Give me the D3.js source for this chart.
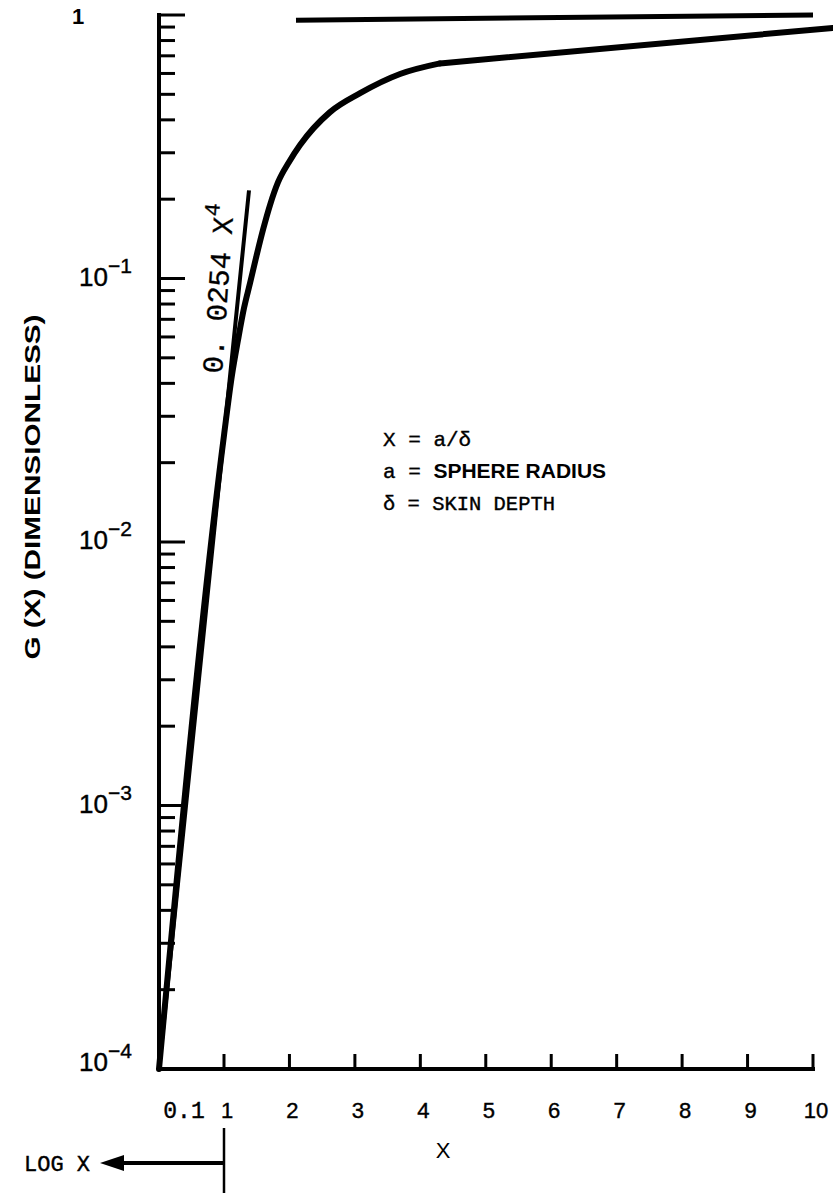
<!DOCTYPE html>
<html><head><meta charset="utf-8">
<script src="https://cdn.jsdelivr.net/npm/d3@7"></script>
<style>body{margin:0;background:#fff}</style>
</head><body><svg id="c" width="833" height="1193"></svg>
<script>
// ---- data ----
const xTickValues = [1,2,3,4,5,6,7,8,9,10];
const xTickLabels = ["0.1","1","2","3","4","5","6","7","8","9","10"];
const xLabelValues = [0.1,1,2,3,4,5,6,7,8,9,10];
const yDecades = [1e-4,1e-3,1e-2,1e-1,1];
const yDecadeLabels = ["-4","-3","-2","-1",""];
const curveX = [0.1,1.0,1.122,1.214,1.306,1.398,1.489,1.596,1.703,1.826,1.994,2.162,2.62,3.08,3.69,4.30,10.3];
const curveG = [1e-4,0.0254,0.043,0.0584,0.0773,0.0961,0.1197,0.153,0.190,0.232,0.277,0.321,0.428,0.505,0.597,0.655,0.893];
const kneeX = 4.30;
const asymX = [0.1,1.0,1.382];
const asymG = [1e-4,0.0254,0.216];
const limitX = [2.1,10.0];
const limitG = [0.955,1.0];

// ---- scales ----
const xLog = d3.scaleLog().domain([0.1,1]).range([159,224]);
const xLin = d3.scaleLinear().domain([1,10]).range([224,813]);
const x = v => v <= 1 ? xLog(v) : xLin(v);
const y = d3.scaleLog().domain([1e-4,1]).range([1069,15]);

const svg = d3.select("#c");
const mono = "'Liberation Mono','DejaVu Sans Mono',monospace";
const sans = "'Liberation Sans',Arial,sans-serif";

// ---- y axis ----
svg.append("line").attr("x1",x(0.1)).attr("x2",x(0.1)).attr("y1",y(1)-2).attr("y2",y(1e-4)+2)
  .attr("stroke","#000").attr("stroke-width",4);
const minor = [];
yDecades.slice(0,4).forEach(d => { for (let m=2;m<=9;m++) minor.push(d*m); });
svg.selectAll(".ymin").data(minor).enter().append("line")
  .attr("x1",x(0.1)).attr("x2",x(0.1)+16).attr("y1",d=>y(d)).attr("y2",d=>y(d))
  .attr("stroke","#000").attr("stroke-width",3);
svg.selectAll(".ymaj").data(yDecades).enter().append("line")
  .attr("x1",x(0.1)-2).attr("x2",x(0.1)+26).attr("y1",d=>y(d)).attr("y2",d=>y(d))
  .attr("stroke","#000").attr("stroke-width",3);

// y labels
yDecades.forEach((d,i) => {
  if (d === 1) {
    svg.append("text").attr("x",78).attr("y",y(d)+9).attr("text-anchor","middle")
      .attr("font-family",sans).attr("font-weight","bold").attr("font-size",22).text("1");
  } else {
    const t = svg.append("text").attr("x",79).attr("y",y(d)+ (d===1e-4 ? 2 : 7))
      .attr("font-family",sans).attr("font-size",26).attr("stroke","#000").attr("stroke-width",0.4);
    t.append("tspan").text("10");
    t.append("tspan").attr("dy",-13).attr("font-size",21).text("\u2212" + yDecadeLabels[i].slice(1));
  }
});

// ---- x axis ----
svg.append("line").attr("x1",x(0.1)-2).attr("x2",x(10)+2).attr("y1",y(1e-4)).attr("y2",y(1e-4))
  .attr("stroke","#000").attr("stroke-width",4);
svg.selectAll(".xt").data(xTickValues).enter().append("line")
  .attr("x1",d=>x(d)).attr("x2",d=>x(d)).attr("y1",y(1e-4)).attr("y2",y(1e-4)-15)
  .attr("stroke","#000").attr("stroke-width",3);
svg.selectAll(".xl").data(xLabelValues).enter().append("text")
  .attr("x",(d,i)=> x(d) + (i===0 ? 25 : 3)).attr("y",y(1e-4)+49)
  .attr("text-anchor","middle")
  .attr("font-family",(d,i)=> i===0 ? mono : sans)
  .attr("font-size",(d,i)=> i===0 ? 23 : 22)
  .attr("stroke","#000").attr("stroke-width",0.4)
  .text((d,i)=>xTickLabels[i]);

// ---- curves ----
const line = d3.line().x(d=>x(d[0])).y(d=>y(d[1]));
svg.append("path").datum(asymX.map((v,i)=>[v,asymG[i]])).attr("d",line)
  .attr("fill","none").attr("stroke","#000").attr("stroke-width",4);
svg.append("path").datum(limitX.map((v,i)=>[v,limitG[i]])).attr("d",line)
  .attr("fill","none").attr("stroke","#000").attr("stroke-width",5);
const pts = curveX.map((v,i)=>[v,curveG[i]]);
const smooth = d3.line().x(d=>x(d[0])).y(d=>y(d[1])).curve(d3.curveMonotoneX);
svg.append("path").datum(pts.filter(p=>p[0]<=kneeX)).attr("d",smooth)
  .attr("fill","none").attr("stroke","#000").attr("stroke-width",6).attr("stroke-linecap","round");
svg.append("path").datum(pts.filter(p=>p[0]>=kneeX)).attr("d",line)
  .attr("fill","none").attr("stroke","#000").attr("stroke-width",6).attr("stroke-linecap","round");

// ---- annotations ----
const ann = svg.append("text").attr("transform","translate(222,374) rotate(-86)")
  .attr("font-family",mono).attr("font-size",29).attr("stroke","#000").attr("stroke-width",0.3);
ann.append("tspan").text("0. 0254 X");
ann.append("tspan").attr("dy",-14).attr("font-size",22).text("4");

const legFs = 21;
svg.append("text").attr("x",383).attr("y",446).attr("font-family",mono).attr("font-size",legFs)
  .attr("stroke","#000").attr("stroke-width",0.4).text("X = a/\u03b4");
const t2 = svg.append("text").attr("x",383).attr("y",478).attr("font-size",legFs);
t2.append("tspan").attr("font-family",mono).attr("stroke","#000").attr("stroke-width",0.4).text("a = ");
t2.append("tspan").attr("font-family",sans).attr("font-weight","bold").attr("font-size",21).text("SPHERE RADIUS");
svg.append("text").attr("x",383).attr("y",510).attr("font-family",mono).attr("font-size",legFs)
  .attr("stroke","#000").attr("stroke-width",0.4).attr("textLength",172).attr("lengthAdjust","spacingAndGlyphs")
  .text("\u03b4 = SKIN DEPTH");

// axis titles
svg.append("text").attr("transform","translate(40,487) rotate(-90)").attr("text-anchor","middle")
  .attr("font-family",sans).attr("font-weight","bold").attr("font-size",22)
  .attr("textLength",345).attr("lengthAdjust","spacingAndGlyphs")
  .text("G (X) (DIMENSIONLESS)");
svg.append("text").attr("x",443).attr("y",1158).attr("text-anchor","middle")
  .attr("font-family",sans).attr("font-size",22).text("X");

// LOG X with arrow
svg.append("line").attr("x1",x(1)).attr("x2",x(1)).attr("y1",1128).attr("y2",1193)
  .attr("stroke","#000").attr("stroke-width",2.5);
svg.append("line").attr("x1",x(1)).attr("x2",118).attr("y1",1163).attr("y2",1163)
  .attr("stroke","#000").attr("stroke-width",4);
svg.append("path").attr("d","M100,1163 L124,1155 L124,1171 Z").attr("fill","#000");
svg.append("text").attr("x",24).attr("y",1171).attr("font-family",mono).attr("font-size",22)
  .attr("stroke","#000").attr("stroke-width",0.4).text("LOG X");
</script></body></html>
